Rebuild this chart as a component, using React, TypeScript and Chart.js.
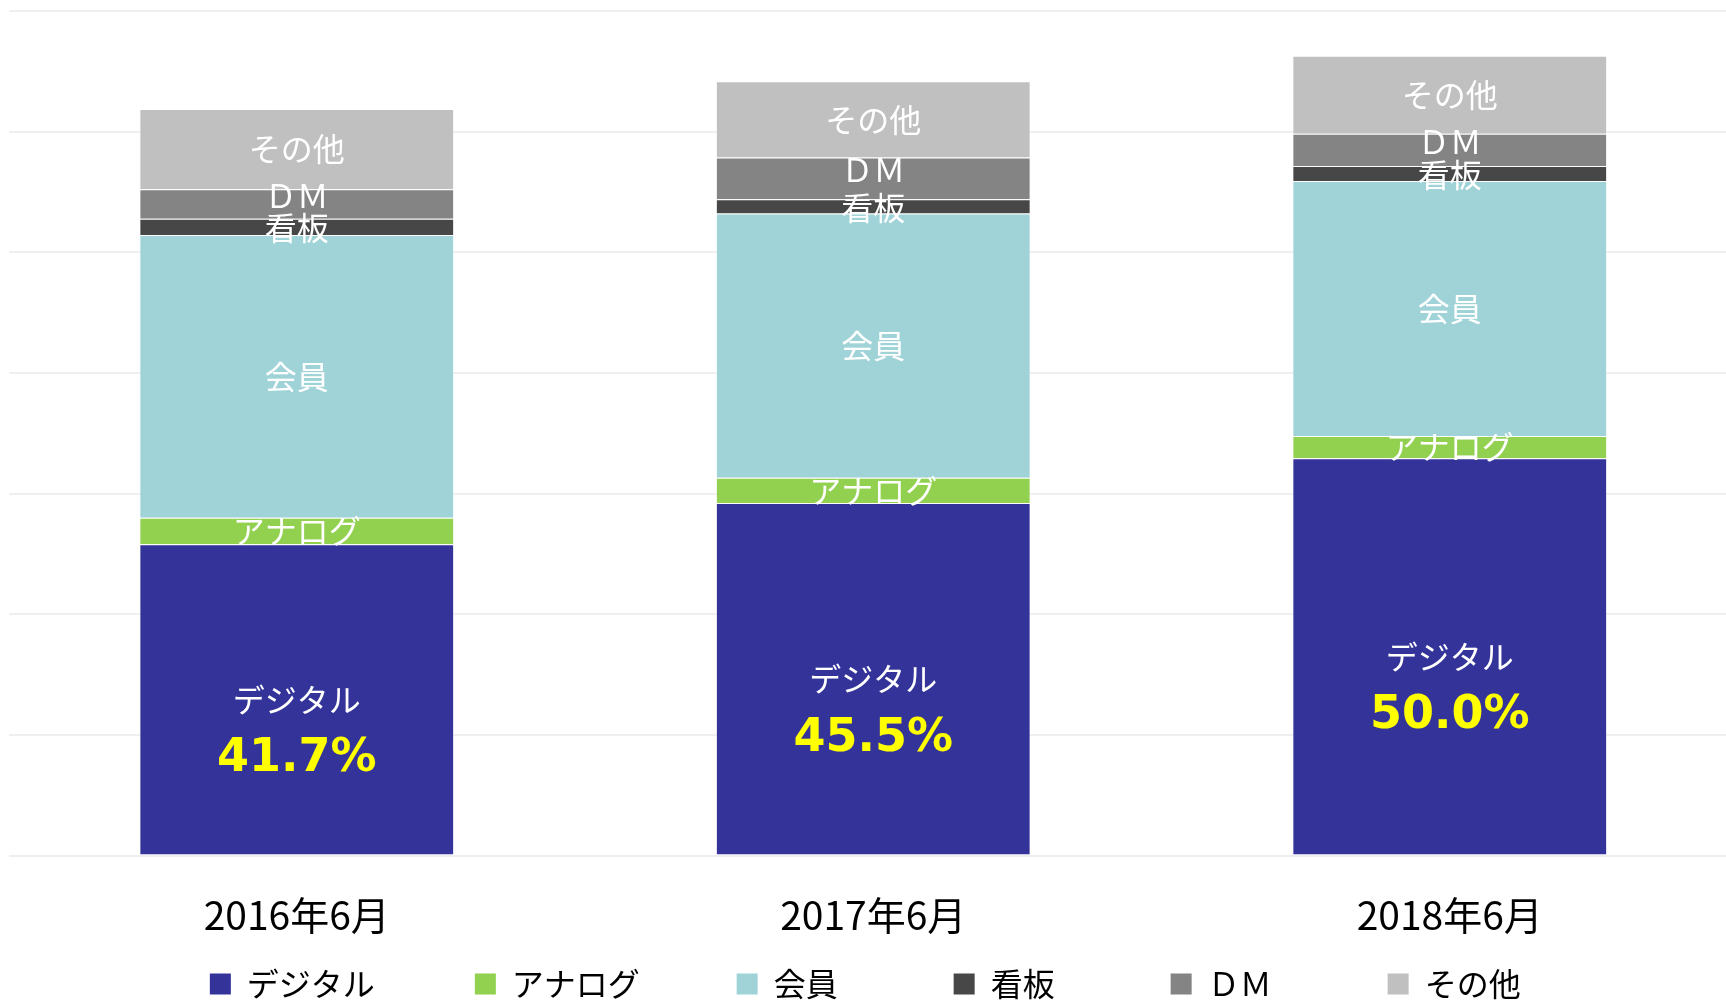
import React, { useEffect, useRef } from "react";
import { Chart, registerables } from "chart.js";

Chart.register(...registerables);

const categories = ["2016年6月", "2017年6月", "2018年6月"];
const seriesNames = ["デジタル", "アナログ", "会員", "看板", "ＤＭ", "その他"];
const digitalValues = [258.0, 292.1, 329.2];
const analogValues = [22.0, 21.1, 18.5];
const memberValues = [234.3, 218.9, 211.4];
const signboardValues = [13.5, 11.9, 12.4];
const dmValues = [24.4, 34.6, 26.8];
const otherValues = [66.6, 63.1, 64.7];
const digitalShareLabels = ["41.7%", "45.5%", "50.0%"];
const seriesColors = ["#333399", "#92D050", "#9FD3D8", "#474747", "#848484", "#C0C0C0"];

const seriesValues = [digitalValues, analogValues, memberValues, signboardValues, dmValues, otherValues];

// trailing spacing used to widen the legend items (style only)
const legendTrail = ["　　\u2002", "　　\u2009\u2009", "　　　", "　　　", "　　　", "\u2002"];

const JP_FONT = '"Noto Sans CJK JP", "Noto Sans", sans-serif';

const labelPlugin = {
  id: "segmentLabels",
  afterDatasetsDraw(chart: any) {
    const ctx = chart.ctx;
    ctx.save();
    ctx.textAlign = "center";
    ctx.textBaseline = "middle";
    chart.data.datasets.forEach((ds: any, i: number) => {
      const meta = chart.getDatasetMeta(i);
      if (meta.hidden) return;
      meta.data.forEach((el: any, j: number) => {
        const p = el.getProps(["x", "y", "base"], true);
        const cy = (p.y + p.base) / 2;
        let dy = 0;
        if (i === 4) dy = -8;
        if (i === 3) dy = 1;
        ctx.fillStyle = "#FFFFFF";
        ctx.font = `32px ${JP_FONT}`;
        ctx.fillText(ds.label, p.x, cy + dy);
        if (i === 0) {
          ctx.fillStyle = "#FFFF00";
          ctx.font = `bold 46px "DejaVu Sans", Verdana, sans-serif`;
          ctx.fillText(digitalShareLabels[j], p.x, cy + 60);
        }
      });
    });
    ctx.restore();
  },
};

export default function App() {
  const canvasRef = useRef<HTMLCanvasElement | null>(null);

  useEffect(() => {
    if (!canvasRef.current) return;
    const chart = new Chart(canvasRef.current, {
      type: "bar",
      data: {
        labels: categories,
        datasets: seriesNames.map((name, i) => ({
          label: name,
          data: seriesValues[i],
          backgroundColor: seriesColors[i],
          borderColor: "rgba(255,255,255,0.35)",
          borderWidth: 1,
          barPercentage: 0.546,
          categoryPercentage: 1,
        })),
      },
      options: {
        animation: false,
        responsive: true,
        maintainAspectRatio: false,
        layout: { padding: { left: 8.5, right: 2, top: 11, bottom: 0 } },
        scales: {
          x: {
            stacked: true,
            grid: { display: false, drawTicks: false },
            border: { display: false },
            ticks: {
              color: "#000000",
              font: { family: JP_FONT, size: 39 },
              padding: 36,
            },
            afterFit: (scale: any) => {
              scale.height = 92.5;
            },
          },
          y: {
            stacked: true,
            min: 0,
            max: 700,
            ticks: { display: false, stepSize: 100 },
            grid: { color: "#EFEFEF", lineWidth: 2, drawTicks: false },
            border: { display: false },
          },
        },
        plugins: {
          legend: {
            position: "bottom",
            labels: {
              boxWidth: 21,
              boxHeight: 21,
              padding: 20,
              color: "#000000",
              font: { family: JP_FONT, size: 32 },
              generateLabels: (c: any) => {
                const items = Chart.defaults.plugins.legend.labels.generateLabels(c);
                return items.map((it: any, i: number) => ({
                  ...it,
                  text: it.text + legendTrail[i],
                  lineWidth: 0,
                }));
              },
            },
          },
          tooltip: { enabled: false },
        },
      },
      plugins: [labelPlugin],
    });
    return () => chart.destroy();
  }, []);

  return (
    <div
      style={{
        position: "fixed",
        left: 0,
        top: 0,
        width: 1726,
        height: 1002,
        overflow: "hidden",
        background: "#FFFFFF",
      }}
    >
      <div style={{ position: "relative", width: 1740, height: 1010 }}>
        <canvas ref={canvasRef} />
      </div>
    </div>
  );
}
